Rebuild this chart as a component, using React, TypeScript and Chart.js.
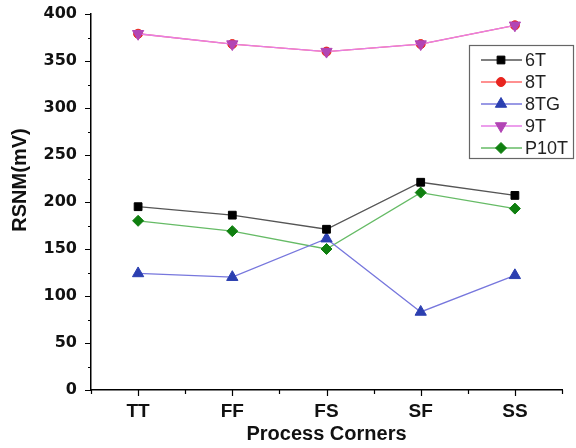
import React, { useEffect, useRef } from "react";
import { Chart, registerables } from "chart.js";

Chart.register(...registerables);

const categories = ["TT", "FF", "FS", "SF", "SS"];
const yTicks = [0, 50, 100, 150, 200, 250, 300, 350, 400];
const series6T = [195, 186, 171, 221, 207];
const series8T = [379, 368, 360, 368, 388];
const series8TG = [124, 120, 161, 83, 122];
const series9T = [379, 368, 360, 368, 388];
const seriesP10T = [180, 169, 150, 210, 193];

type Entry = { label: string; line: string; marker: string; style: string; radius: number; rotation: number };
const legendEntries: Entry[] = [
  { label: "6T", line: "#555555", marker: "#000000", style: "rect", radius: 5.5, rotation: 0 },
  { label: "8T", line: "#ff6b6b", marker: "#e8251f", style: "circle", radius: 4.5, rotation: 0 },
  { label: "8TG", line: "#7777dd", marker: "#2b3fb0", style: "triangle", radius: 6.5, rotation: 0 },
  { label: "9T", line: "#e67ee6", marker: "#b245b5", style: "triangle", radius: 6.5, rotation: 180 },
  { label: "P10T", line: "#66bb66", marker: "#0f7f0f", style: "rectRot", radius: 5.5, rotation: 0 },
];

function drawMarker(ctx: CanvasRenderingContext2D, e: Entry, x: number, y: number) {
  ctx.save();
  ctx.fillStyle = e.marker;
  ctx.strokeStyle = e.marker;
  ctx.lineWidth = 1;
  ctx.beginPath();
  const r = e.radius;
  if (e.style === "rect") {
    const s = Math.SQRT1_2 * r;
    ctx.rect(x - s, y - s, 2 * s, 2 * s);
  } else if (e.style === "circle") {
    ctx.arc(x, y, r, 0, Math.PI * 2);
  } else if (e.style === "triangle") {
    const rot = (e.rotation * Math.PI) / 180;
    for (let k = 0; k < 3; k++) {
      const a = rot - Math.PI / 2 + (k * 2 * Math.PI) / 3;
      const px = x + Math.cos(a) * r;
      const py = y + Math.sin(a) * r;
      if (k === 0) ctx.moveTo(px, py);
      else ctx.lineTo(px, py);
    }
    ctx.closePath();
  } else if (e.style === "rectRot") {
    ctx.moveTo(x, y - r);
    ctx.lineTo(x + r, y);
    ctx.lineTo(x, y + r);
    ctx.lineTo(x - r, y);
    ctx.closePath();
  }
  ctx.fill();
  ctx.stroke();
  ctx.restore();
}

const decorPlugin = {
  id: "decor",
  afterDraw(chart: any) {
    const ctx: CanvasRenderingContext2D = chart.ctx;
    const xs = chart.scales.x;
    const ys = chart.scales.y;
    const area = chart.chartArea;
    ctx.save();
    ctx.strokeStyle = "#000";
    ctx.lineWidth = 1.2;
    // x ticks
    ctx.beginPath();
    for (let i = 0; i < categories.length; i++) {
      const px = Math.round(xs.getPixelForValue(i)) + 0.5;
      ctx.moveTo(px, area.bottom);
      ctx.lineTo(px, area.bottom + 6);
    }
    const step = (area.right - area.left) / categories.length;
    for (let i = 0; i <= categories.length; i++) {
      const px = Math.round(area.left + i * step) + 0.5;
      ctx.moveTo(px, area.bottom);
      ctx.lineTo(px, area.bottom + 4);
    }
    // y ticks
    for (let v = 0; v <= 400; v += 25) {
      const py = Math.round(ys.getPixelForValue(v)) + 0.5;
      const len = v % 50 === 0 ? 6 : 3;
      ctx.moveTo(area.left, py);
      ctx.lineTo(area.left - len, py);
    }
    ctx.stroke();

    // y title
    ctx.save();
    ctx.translate(20, 180);
    ctx.rotate(-Math.PI / 2);
    ctx.fillStyle = "#111";
    ctx.font = "bold 20px 'Liberation Sans', Arial, sans-serif";
    ctx.textAlign = "center";
    ctx.textBaseline = "middle";
    ctx.fillText("RSNM(mV)", 0, 0);
    ctx.restore();

    // legend
    ctx.fillStyle = "#ffffff";
    ctx.fillRect(469.5, 45.5, 104, 113);
    ctx.strokeStyle = "#666";
    ctx.lineWidth = 1.2;
    ctx.strokeRect(469.5, 45.5, 104, 113);
    legendEntries.forEach((e, i) => {
      const y = 60 + i * 22;
      ctx.strokeStyle = e.line;
      ctx.lineWidth = 1.3;
      ctx.beginPath();
      ctx.moveTo(481, y);
      ctx.lineTo(522, y);
      ctx.stroke();
      drawMarker(ctx, e, 501, y);
      ctx.fillStyle = "#222";
      ctx.font = "18px 'Liberation Sans', Arial, sans-serif";
      ctx.textAlign = "left";
      ctx.textBaseline = "middle";
      ctx.fillText(e.label, 525, y + 1);
    });
    ctx.restore();
  },
};

function ds(e: Entry, data: number[], order: number) {
  return {
    label: e.label,
    data,
    borderColor: e.line,
    borderWidth: 1.3,
    backgroundColor: e.marker,
    pointBackgroundColor: e.marker,
    pointBorderColor: e.marker,
    pointBorderWidth: 1,
    pointStyle: e.style,
    pointRadius: e.radius,
    pointRotation: e.rotation,
    tension: 0,
    fill: false,
    order,
  };
}

export default function App() {
  const ref = useRef<HTMLCanvasElement | null>(null);
  useEffect(() => {
    if (!ref.current) return;
    const chart = new Chart(ref.current, {
      type: "line",
      data: {
        labels: categories,
        datasets: [
          ds(legendEntries[0], series6T, 0),
          ds(legendEntries[1], series8T, 2),
          ds(legendEntries[2], series8TG, 0),
          ds(legendEntries[3], series9T, 1),
          ds(legendEntries[4], seriesP10T, 0),
        ] as any,
      },
      options: {
        animation: false,
        responsive: false,
        maintainAspectRatio: false,
        layout: { padding: { left: 0, right: 14, top: 14, bottom: 0 } },
        plugins: { legend: { display: false }, tooltip: { enabled: false } },
        scales: {
          x: {
            offset: true,
            grid: { display: false, drawTicks: true, tickLength: 10 },
            border: { display: true, color: "#000", width: 1.5 },
            ticks: {
              padding: 0,
              color: "#111",
              font: { family: "'Liberation Sans', Arial, sans-serif", size: 19, weight: "bold" },
            },
            title: {
              display: true,
              text: "Process Corners",
              color: "#111",
              font: { family: "'Liberation Sans', Arial, sans-serif", size: 20, weight: "bold" },
              padding: { top: 0, bottom: 2 },
            },
            afterFit: (s: any) => {
              s.height = 58;
            },
          },
          y: {
            min: 0,
            max: 400,
            afterBuildTicks: (s: any) => {
              s.ticks = yTicks.map((v) => ({ value: v }));
            },
            grid: { display: false, drawTicks: true, tickLength: 14 },
            border: { display: true, color: "#000", width: 1.5 },
            ticks: {
              padding: 0,
              color: "#111",
              font: { family: "'DejaVu Sans', sans-serif", size: 16, weight: "bold" },
            },
            afterFit: (s: any) => {
              s.width = 91;
            },
          },
        },
      },
      plugins: [decorPlugin],
    });
    return () => chart.destroy();
  }, []);
  return (
    <div style={{ position: "absolute", left: 0, top: 0, width: 576, height: 448, background: "#fff" }}>
      <canvas ref={ref} width={576} height={448} style={{ width: 576, height: 448, display: "block" }} />
    </div>
  );
}
